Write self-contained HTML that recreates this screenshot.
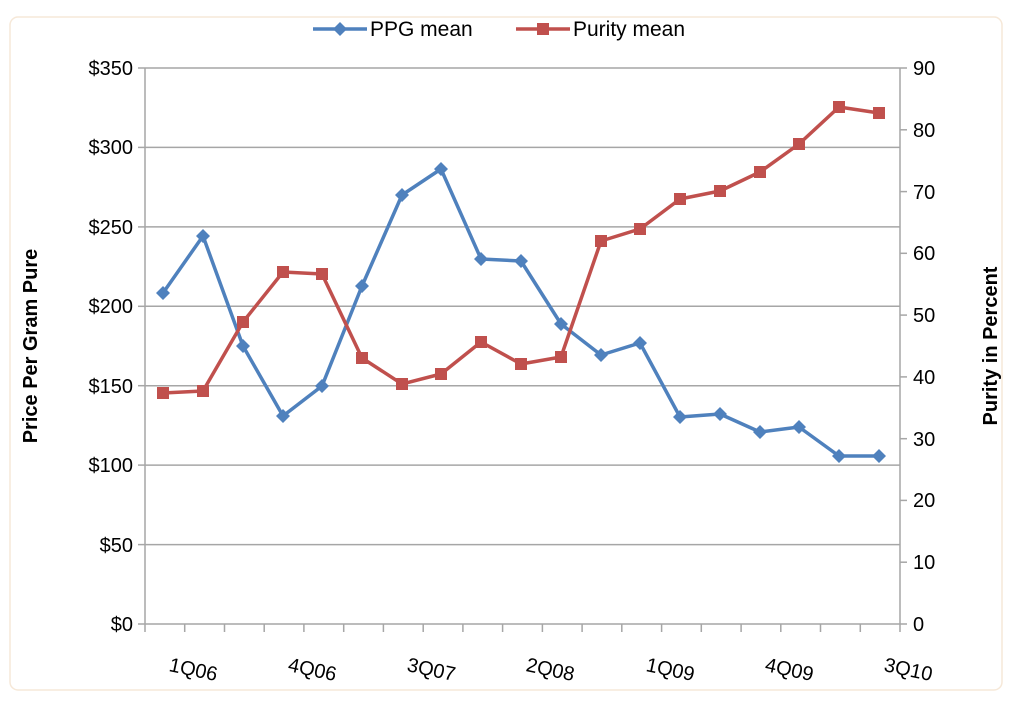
<!DOCTYPE html>
<html><head><meta charset="utf-8"><style>
html,body{margin:0;padding:0;background:#fff;}
svg{display:block;font-family:"Liberation Sans",sans-serif;}
</style></head><body>
<svg width="1034" height="716" viewBox="0 0 1034 716" xmlns="http://www.w3.org/2000/svg">
<rect x="0" y="0" width="1034" height="716" fill="#fff"/>
<rect x="10" y="17" width="992" height="673" rx="8" fill="#fff" stroke="#f6e8d8" stroke-width="1.5"/>
<g stroke="#a6a6a6" stroke-width="1.5">
<line x1="145" y1="68" x2="900" y2="68"/>
<line x1="145" y1="147.4" x2="900" y2="147.4"/>
<line x1="145" y1="226.9" x2="900" y2="226.9"/>
<line x1="145" y1="306.3" x2="900" y2="306.3"/>
<line x1="145" y1="385.7" x2="900" y2="385.7"/>
<line x1="145" y1="465.1" x2="900" y2="465.1"/>
<line x1="145" y1="544.6" x2="900" y2="544.6"/>
<line x1="145" y1="624" x2="900" y2="624"/>
<line x1="145" y1="68" x2="145" y2="624"/>
<line x1="900" y1="68" x2="900" y2="624"/>
<line x1="138" y1="68" x2="145" y2="68"/><line x1="138" y1="147.4" x2="145" y2="147.4"/><line x1="138" y1="226.9" x2="145" y2="226.9"/><line x1="138" y1="306.3" x2="145" y2="306.3"/><line x1="138" y1="385.7" x2="145" y2="385.7"/><line x1="138" y1="465.1" x2="145" y2="465.1"/><line x1="138" y1="544.6" x2="145" y2="544.6"/><line x1="138" y1="624" x2="145" y2="624"/>
<line x1="900" y1="68" x2="907" y2="68"/><line x1="900" y1="129.8" x2="907" y2="129.8"/><line x1="900" y1="191.6" x2="907" y2="191.6"/><line x1="900" y1="253.3" x2="907" y2="253.3"/><line x1="900" y1="315.1" x2="907" y2="315.1"/><line x1="900" y1="376.9" x2="907" y2="376.9"/><line x1="900" y1="438.7" x2="907" y2="438.7"/><line x1="900" y1="500.4" x2="907" y2="500.4"/><line x1="900" y1="562.2" x2="907" y2="562.2"/><line x1="900" y1="624" x2="907" y2="624"/>
<path d="M145 624v8M184.7 624v8M224.5 624v8M264.2 624v8M303.9 624v8M343.7 624v8M383.4 624v8M423.2 624v8M462.9 624v8M502.6 624v8M542.4 624v8M582.1 624v8M621.8 624v8M661.6 624v8M701.3 624v8M741.1 624v8M780.8 624v8M820.5 624v8M860.3 624v8M900 624v8"/>
</g>
<g font-size="20" fill="#000" text-anchor="end">
<text x="133" y="75">$350</text><text x="133" y="154">$300</text><text x="133" y="234">$250</text><text x="133" y="313">$200</text><text x="133" y="393">$150</text><text x="133" y="472">$100</text><text x="133" y="552">$50</text><text x="133" y="631">$0</text>
</g>
<g font-size="20" fill="#000" text-anchor="start">
<text x="913" y="75">90</text><text x="913" y="137">80</text><text x="913" y="199">70</text><text x="913" y="260">60</text><text x="913" y="322">50</text><text x="913" y="384">40</text><text x="913" y="446">30</text><text x="913" y="507">20</text><text x="913" y="569">10</text><text x="913" y="631">0</text>
</g>
<g font-size="20" fill="#000" text-anchor="middle">
<text transform="translate(192,676) rotate(12)">1Q06</text>
<text transform="translate(311,676) rotate(12)">4Q06</text>
<text transform="translate(430,676) rotate(12)">3Q07</text>
<text transform="translate(549,676) rotate(12)">2Q08</text>
<text transform="translate(669,676) rotate(12)">1Q09</text>
<text transform="translate(788,676) rotate(12)">4Q09</text>
<text transform="translate(907,676) rotate(12)">3Q10</text>
</g>
<text transform="translate(37,346) rotate(-90)" font-size="20" font-weight="bold" text-anchor="middle">Price Per Gram Pure</text>
<text transform="translate(997,346) rotate(-90)" font-size="20" font-weight="bold" text-anchor="middle">Purity in Percent</text>
<polyline fill="none" stroke="#4f81bd" stroke-width="3.5" stroke-linejoin="round" points="163,293 203,236 243,346 283,416 322,386 362,286 402,195 441,169 481,259 521,261 561,324 601,355 640,343 680,417 720,414 760,432 799,427 839,456 879,456"/>
<g fill="#4f81bd">
<path d="M163 286l7 7-7 7-7-7zM203 229l7 7-7 7-7-7zM243 339l7 7-7 7-7-7zM283 409l7 7-7 7-7-7zM322 379l7 7-7 7-7-7zM362 279l7 7-7 7-7-7zM402 188l7 7-7 7-7-7zM441 162l7 7-7 7-7-7zM481 252l7 7-7 7-7-7zM521 254l7 7-7 7-7-7zM561 317l7 7-7 7-7-7zM601 348l7 7-7 7-7-7zM640 336l7 7-7 7-7-7zM680 410l7 7-7 7-7-7zM720 407l7 7-7 7-7-7zM760 425l7 7-7 7-7-7zM799 420l7 7-7 7-7-7zM839 449l7 7-7 7-7-7zM879 449l7 7-7 7-7-7z"/>
</g>
<polyline fill="none" stroke="#c0504d" stroke-width="3.5" stroke-linejoin="round" points="163,393 203,391 243,322 283,272 322,274 362,358 402,384 441,374 481,342 521,364 561,357 601,241 640,229 680,199 720,191 760,172 799,144 839,107 879,113"/>
<g fill="#c0504d">
<path d="M157 387h12v12h-12zM197 385h12v12h-12zM237 316h12v12h-12zM277 266h12v12h-12zM316 268h12v12h-12zM356 352h12v12h-12zM396 378h12v12h-12zM435 368h12v12h-12zM475 336h12v12h-12zM515 358h12v12h-12zM555 351h12v12h-12zM595 235h12v12h-12zM634 223h12v12h-12zM674 193h12v12h-12zM714 185h12v12h-12zM754 166h12v12h-12zM793 138h12v12h-12zM833 101h12v12h-12zM873 107h12v12h-12z"/>
</g>
<line x1="313" y1="29" x2="367" y2="29" stroke="#4f81bd" stroke-width="3.5"/>
<path d="M340 22l7 7-7 7-7-7z" fill="#4f81bd"/>
<text x="370" y="36" font-size="21">PPG mean</text>
<line x1="516" y1="29" x2="570" y2="29" stroke="#c0504d" stroke-width="3.5"/>
<path d="M537 23h12v12h-12z" fill="#c0504d"/>
<text x="573" y="36" font-size="21">Purity mean</text>
</svg>
</body></html>
